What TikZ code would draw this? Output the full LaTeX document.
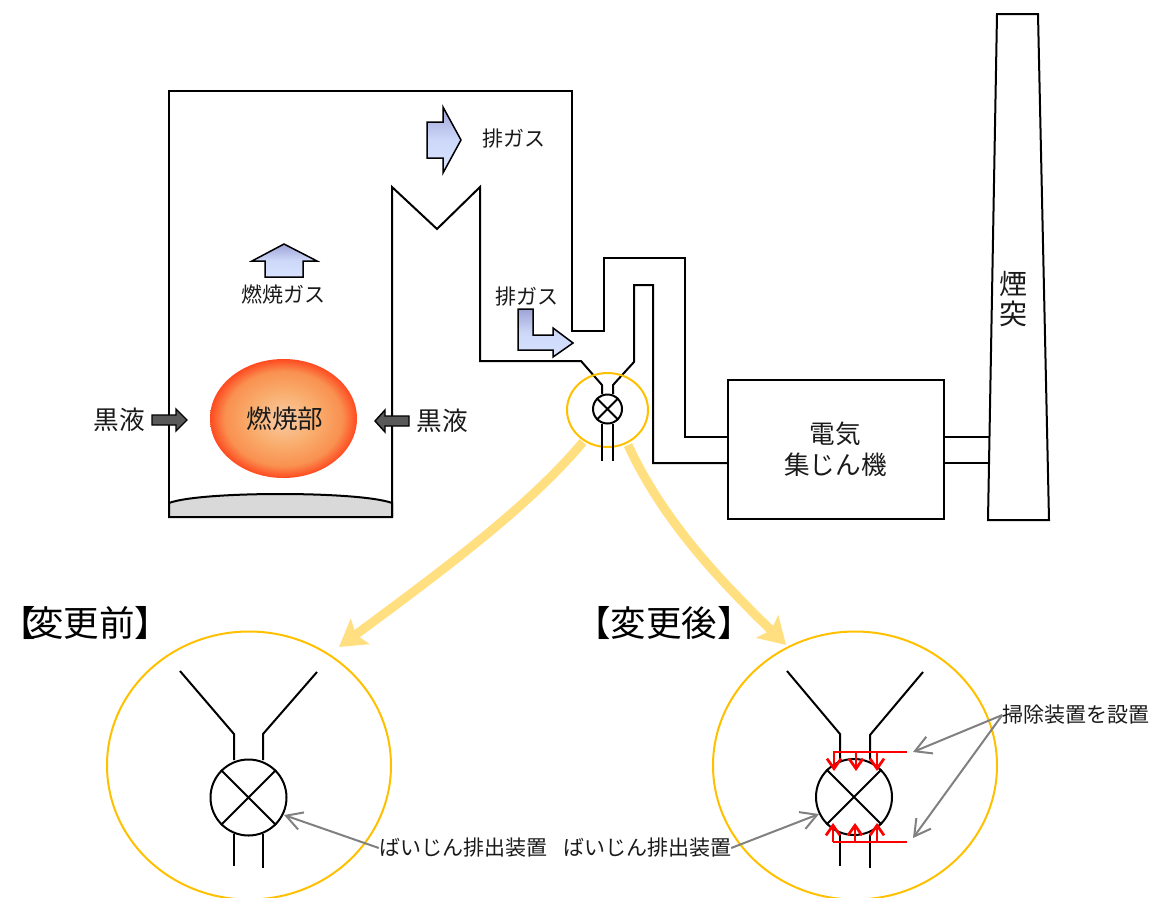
\documentclass[tikz,border=0pt]{standalone}
\usepackage{fontspec}
\setmainfont{Noto Sans CJK JP}
\usetikzlibrary{arrows.meta,shapes.geometric}
\definecolor{ringc}{HTML}{FFC000}
\definecolor{bigarrow}{HTML}{FFDF80}
\definecolor{leader}{HTML}{808080}
\definecolor{liquid}{HTML}{595959}
\definecolor{ash}{HTML}{D9D9D9}
\definecolor{redc}{HTML}{FF0000}
\definecolor{gastop}{HTML}{9EA3D6}
\definecolor{gasbot}{HTML}{D6E2FF}
\definecolor{textc}{HTML}{1A1A1A}
\definecolor{flameA}{HTML}{F9CBA5}
\definecolor{flameB}{HTML}{F9AE6E}
\definecolor{flameC}{HTML}{F99050}
\definecolor{flameD}{HTML}{FF4A20}
\pgfdeclareradialshading{flame}{\pgfpoint{0bp}{0bp}}{
 color(0bp)=(flameA); color(11bp)=(flameB); color(20bp)=(flameC); color(25bp)=(flameD); color(50bp)=(flameD)}
\tikzset{
 x=1pt,y=-1pt,
 wall/.style={draw=black,line width=2pt,line join=miter},
 thinwall/.style={draw=black,line width=2pt},
 ring/.style={draw=ringc,line width=2pt},
 gas/.style={draw=black,line width=1.5pt,top color=gastop,bottom color=gasbot,middle color=gasbot!85!gastop},
 liq/.style={draw=black,line width=1.4pt,fill=liquid},
 big/.style={draw=bigarrow,line width=9pt,-{Stealth[length=26pt,width=31pt,inset=5pt]}},
 lead/.style={draw=leader,line width=2pt,-{Straight Barb[length=16pt,width=18pt,line width=2pt]}},
 redl/.style={draw=redc,line width=2.7pt},
 reda/.style={draw=redc,line width=2.7pt,-{Straight Barb[length=10pt,width=14pt,line width=2.7pt]}},
 lab/.style={inner sep=0pt,text=textc,font=\fontsize{21}{25}\selectfont},
 labm/.style={inner sep=0pt,text=textc,font=\fontsize{25.6}{31}\selectfont,align=center},
 labl/.style={inner sep=0pt,text=black,font=\fontsize{35.5}{40}\selectfont},
 valve/.style={circle,draw=black,line width=2pt,inner sep=0pt,fill=white},
}
\begin{document}
\begin{tikzpicture}
\useasboundingbox (0,0) rectangle (1151,897);
% furnace and flue
\draw[wall,fill=ash] (169,503) .. controls (200,491) and (360,491) .. (392,503) -- (392,517) -- (169,517) -- cycle;
\draw[wall] (169,517) -- (169,91) -- (572,91) -- (572,331) -- (604,331) -- (604,258) -- (685,258) -- (685,437) -- (727,437);
\draw[wall] (392,517) -- (392,187) -- (437,229) -- (480,187) -- (480,361) -- (581,361) -- (602,385) -- (602,394);
\draw[wall] (613,394) -- (613,385) -- (634,362) -- (634,285) -- (653,285) -- (653,463) -- (727,463);
% precipitator, chimney
\node[draw=black,line width=2pt,outer sep=0pt,minimum width=216pt,minimum height=139pt,inner sep=0pt,labm] (esp) at (835.5,449) {電気\\集じん機};
\draw[wall] (997,14) -- (1038,14) -- (1049,520) -- (988,520) -- cycle;
\draw[wall] (944,437) -- (990,437) (944,463) -- (989,463);
% small valve
\draw[ring] (607.5,410) ellipse [x radius=40.5,y radius=37];
\node[valve,minimum size=29pt] (v0) at (607.5,409) {};
\draw[thinwall] (v0.45) -- (v0.225) (v0.135) -- (v0.315);
\draw[thinwall] (602,424) -- (602,461) (613,424) -- (613,461);
% flame
\shade[shading=flame] (283.5,418.5) ellipse [x radius=73.5,y radius=59.5];
\node[labm] (flame) at (285,419) {燃焼部};
% arrows
\draw[liq] (152,415) -- (176,415) -- (176,409) -- (187,420) -- (176,431) -- (176,425) -- (152,425) -- cycle;
\draw[liq] (409,416) -- (385,416) -- (385,410) -- (375,421) -- (385,432) -- (385,426) -- (409,426) -- cycle;
\draw[gas] (427,122) -- (443,122) -- (443,107) -- (461,140) -- (443,173) -- (443,158) -- (427,158) -- cycle;
\draw[gas] (284,244) -- (317,261) -- (303,261) -- (303,277) -- (265,277) -- (265,261) -- (252,261) -- cycle;
\draw[gas] (518,309) -- (533,309) -- (533,335) -- (553,335) -- (553,328) -- (573,343) -- (553,357) -- (553,350) -- (518,350) -- cycle;
% labels
\node[labm] (lq1) at (119,420) {黒液};
\node[labm] (lq2) at (442,421) {黒液};
\node[lab] (g1) at (514,139) {排ガス};
\node[lab] (g2) at (283,294) {燃焼ガス};
\node[lab] (g3) at (527,297) {排ガス};
\node[inner sep=0pt,text=textc,font=\fontsize{28}{30}\selectfont,align=center] (ch) at (1013,299) {煙\\突};
\node[labl] (before) at (85.5,623) {【\kern-8pt 変更前】};
\node[labl] (after) at (664,623) {【変更後】};
% big arrows
\coordinate (b1s) at (583,442);
\coordinate (b1e) at (339,647);
\coordinate (b2s) at (628,445);
\coordinate (b2e) at (786,645);
\draw[big] (b1s) .. controls (530,505) and (450,565) .. (b1e);
\draw[big] (b2s) .. controls (665,525) and (725,585) .. (b2e);
% detail circles
\draw[ring] (249,765.5) ellipse [x radius=142,y radius=134];
\draw[ring] (855,765.5) ellipse [x radius=142,y radius=134];
% detail before
\draw[wall] (180,671) -- (234,734) -- (234,760) (317,672) -- (263,734) -- (263,760);
\node[valve,minimum size=76pt] (v1) at (248.5,797.5) {};
\draw[thinwall] (v1.45) -- (v1.225) (v1.135) -- (v1.315);
\draw[wall] (234,834) -- (234,866) (263,834) -- (263,868);
% detail after
\draw[wall] (787,671) -- (840,734) -- (840,760) (923,672) -- (870,735) -- (870,760);
\node[valve,minimum size=76pt] (v2) at (854,797) {};
\draw[thinwall] (v2.45) -- (v2.225) (v2.135) -- (v2.315);
\draw[wall] (840,834) -- (840,866) (870,834) -- (870,868);
% red
\coordinate (t0) at (833,752); \coordinate (t1) at (907,752);
\coordinate (u0) at (833,842); \coordinate (u1) at (907,842);
\draw[redl] (t0) -- (t1) (u0) -- (u1);
\draw[reda] (834,752) -- (834,771);
\draw[reda] (856,752) -- (856,771);
\draw[reda] (877,752) -- (877,771);
\draw[reda] (833,842) -- (833,823);
\draw[reda] (855,842) -- (855,823);
\draw[reda] (877,842) -- (877,823);
% leaders
\node[lab] (clean) at (1076,715) {掃除装置を設置};
\node[lab] (d1) at (463,848) {ばいじん排出装置};
\node[lab] (d2) at (647,848) {ばいじん排出装置};
\draw[lead] (clean.west) -- (913,752);
\draw[lead] (clean.west) -- (913,838);
\draw[lead] (d1.west) -- (284,815);
\draw[lead] (d2.east) -- (819,814);
\end{tikzpicture}
\end{document}
